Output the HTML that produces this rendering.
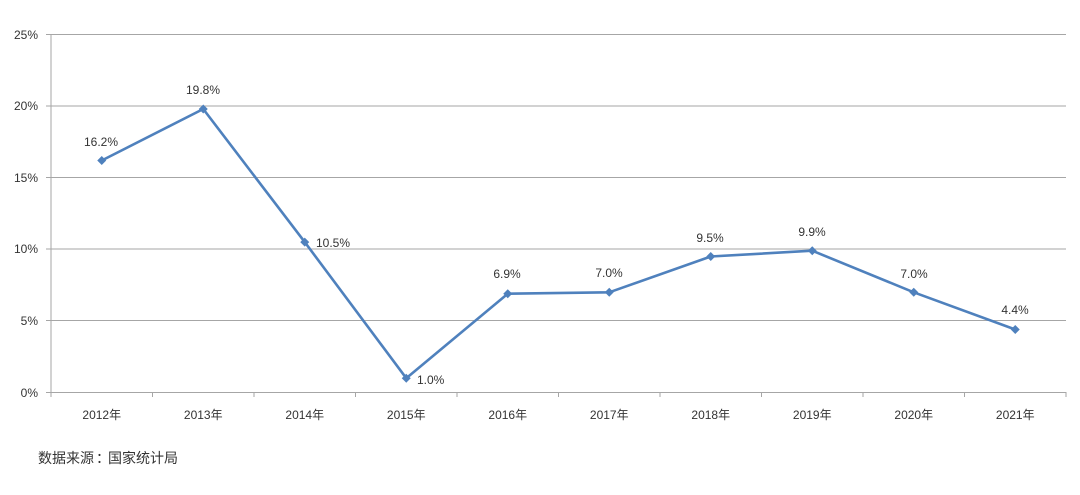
<!DOCTYPE html>
<html><head><meta charset="utf-8"><style>
html,body{margin:0;padding:0;background:#fff;}
svg{display:block;}
text{font-family:"Liberation Sans","Noto Sans CJK SC",sans-serif;fill:#333;}
</style></head><body>
<svg width="1080" height="495" viewBox="0 0 1080 495" xmlns="http://www.w3.org/2000/svg">
<g stroke="#a6a6a6" stroke-width="1" shape-rendering="crispEdges">
<line x1="51" y1="34.5" x2="1066" y2="34.5"/>
<line x1="51" y1="106" x2="1066" y2="106"/>
<line x1="51" y1="177.5" x2="1066" y2="177.5"/>
<line x1="51" y1="249" x2="1066" y2="249"/>
<line x1="51" y1="320.5" x2="1066" y2="320.5"/>
<line x1="51" y1="392.5" x2="1066" y2="392.5"/>
<line x1="51" y1="34.5" x2="51" y2="392.5"/>
<line x1="46" y1="34.5" x2="51" y2="34.5"/>
<line x1="46" y1="106" x2="51" y2="106"/>
<line x1="46" y1="177.5" x2="51" y2="177.5"/>
<line x1="46" y1="249" x2="51" y2="249"/>
<line x1="46" y1="320.5" x2="51" y2="320.5"/>
<line x1="46" y1="392.5" x2="51" y2="392.5"/>
<line x1="51" y1="392" x2="51" y2="397"/>
<line x1="152.5" y1="392" x2="152.5" y2="397"/>
<line x1="254" y1="392" x2="254" y2="397"/>
<line x1="355.5" y1="392" x2="355.5" y2="397"/>
<line x1="457" y1="392" x2="457" y2="397"/>
<line x1="558.5" y1="392" x2="558.5" y2="397"/>
<line x1="660" y1="392" x2="660" y2="397"/>
<line x1="761.5" y1="392" x2="761.5" y2="397"/>
<line x1="863" y1="392" x2="863" y2="397"/>
<line x1="964.5" y1="392" x2="964.5" y2="397"/>
<line x1="1066" y1="392" x2="1066" y2="397"/>
</g>
<g font-size="12" text-anchor="end">
<text x="38" y="39">25%</text>
<text x="38" y="110">20%</text>
<text x="38" y="182">15%</text>
<text x="38" y="253">10%</text>
<text x="38" y="325">5%</text>
<text x="38" y="397">0%</text>
</g>
<g font-size="12" text-anchor="middle">
<text x="101.75" y="419">2012年</text>
<text x="203.25" y="419">2013年</text>
<text x="304.75" y="419">2014年</text>
<text x="406.25" y="419">2015年</text>
<text x="507.75" y="419">2016年</text>
<text x="609.25" y="419">2017年</text>
<text x="710.75" y="419">2018年</text>
<text x="812.25" y="419">2019年</text>
<text x="913.75" y="419">2020年</text>
<text x="1015.25" y="419">2021年</text>
</g>
<polyline fill="none" stroke="#4f81bd" stroke-width="2.6" stroke-linejoin="round" points="101.75,160.5 203.25,109 304.75,242.1 406.25,378.2 507.75,293.7 609.25,292.3 710.75,256.5 812.25,250.7 913.75,292.3 1015.25,329.5"/>
<g fill="#4f81bd">
<polygon points="101.75,156 106.25,160.5 101.75,165 97.25,160.5"/>
<polygon points="203.25,104.5 207.75,109 203.25,113.5 198.75,109"/>
<polygon points="304.75,237.6 309.25,242.1 304.75,246.6 300.25,242.1"/>
<polygon points="406.25,373.7 410.75,378.2 406.25,382.7 401.75,378.2"/>
<polygon points="507.75,289.2 512.25,293.7 507.75,298.2 503.25,293.7"/>
<polygon points="609.25,287.8 613.75,292.3 609.25,296.8 604.75,292.3"/>
<polygon points="710.75,252 715.25,256.5 710.75,261 706.25,256.5"/>
<polygon points="812.25,246.2 816.75,250.7 812.25,255.2 807.75,250.7"/>
<polygon points="913.75,287.8 918.25,292.3 913.75,296.8 909.25,292.3"/>
<polygon points="1015.25,325 1019.75,329.5 1015.25,334 1010.75,329.5"/>
</g>
<g font-size="12" text-anchor="middle">
<text x="101" y="146">16.2%</text>
<text x="203" y="94">19.8%</text>
<text x="507" y="278">6.9%</text>
<text x="609" y="277">7.0%</text>
<text x="710" y="242">9.5%</text>
<text x="812" y="236">9.9%</text>
<text x="914" y="278">7.0%</text>
<text x="1015" y="314">4.4%</text>
</g>
<g font-size="12">
<text x="316" y="247">10.5%</text>
<text x="417" y="384">1.0%</text>
</g>
<text x="38" y="463" font-size="14">数据来源<tspan dx="2">：</tspan><tspan dx="-2">国家统计局</tspan></text>
</svg>
</body></html>
